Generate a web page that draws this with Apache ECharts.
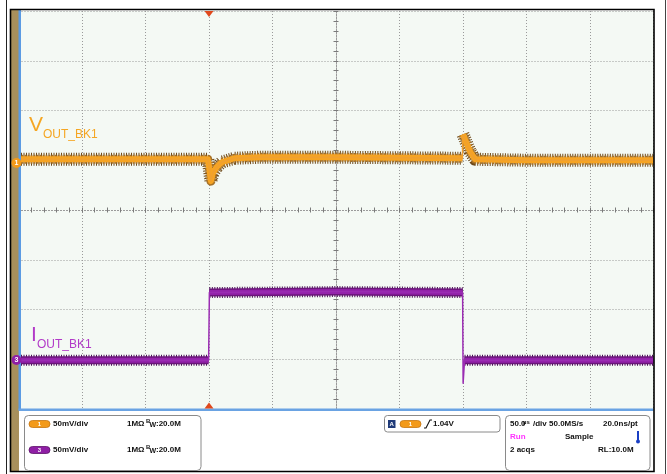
<!DOCTYPE html>
<html><head><meta charset="utf-8">
<script src="https://cdn.jsdelivr.net/npm/echarts@6/dist/echarts.min.js"></script>
<style>html,body{margin:0;padding:0;background:#fff}#c{width:667px;height:474px}</style>
</head><body><div id="c"></div>
<script>
// Time axis: 50 us/div, trigger at t=0 (3 divisions from left)
const timeMin = -150, timeMax = 350, timeDiv = 50;
// Vertical: 50 mV/div, screen mV (0 = centre line)
const voltMin = -200, voltMax = 200, voltDiv = 50;

// CH1 (V_OUT_BK1), screen mV
const ch1Time = [-150, -100, -50, -1, 0, 1.5, 3, 6, 10, 20, 40, 100, 199.5, 200, 202.5, 205.5, 209.5, 250, 350];
const ch1Volt = [51, 51, 51, 51, 44, 29, 37, 43, 48, 52, 53, 53, 52, 76, 68, 59, 51, 50, 50];

// CH3 (I_OUT_BK1), screen mV
const ch3Time = [-150, -0.3, 0.3, 100, 199.7, 200.1, 201.2, 350];
const ch3Volt = [-151, -151, -83, -82, -83, -174, -151, -151];

const ch1Label = ['V', 'OUT_BK1'];
const ch3Label = ['I', 'OUT_BK1'];

const FONT = '"Liberation Sans", Arial, sans-serif';

function pairs(t, v) { return t.map((x, i) => [x, v[i]]); }
function band(t, v, maxSlope) {
  const out = [];
  for (let i = 0; i < t.length; i++) {
    if (i > 0 && Math.abs(v[i] - v[i - 1]) / (t[i] - t[i - 1]) > maxSlope) {
      out.push([(t[i] + t[i - 1]) / 2, '-']);
    }
    out.push([t[i], v[i]]);
  }
  return out;
}

const chart = echarts.init(document.getElementById('c'), null, {renderer: 'canvas'});

const gridRect = {left: 18.5, top: 11, width: 635, height: 398};
const dotted = {color: '#9a9a9a', width: 1, type: [1, 2]};

function txt(text, x, y, opts) {
  opts = opts || {};
  return {
    type: 'text', z: 110, silent: true,
    style: {
      text: text, x: x, y: y,
      fill: opts.fill || '#111',
      font: (opts.weight || 'bold') + ' ' + (opts.size || 8) + 'px ' + FONT,
      textAlign: opts.align || 'left', align: opts.align || 'left',
      textVerticalAlign: 'middle', verticalAlign: 'middle'
    }
  };
}
function pill(x, y, color, stroke, label) {
  return [
    {type: 'rect', z: 110, silent: true, shape: {x: x, y: y - 3.5, width: 21, height: 7, r: 3.5},
      style: {fill: color, stroke: stroke, lineWidth: 0.8}},
    txt(label, x + 10.5, y, {fill: '#fff', size: 6, align: 'center'})
  ];
}

const graphics = [
  {type: 'line', z: 100, silent: true, shape: {x1: 6.5, y1: 0, x2: 6.5, y2: 474}, style: {stroke: '#222', lineWidth: 1}},
  {type: 'line', z: 100, silent: true, shape: {x1: 665.5, y1: 0, x2: 665.5, y2: 474}, style: {stroke: '#444', lineWidth: 1}},
  {type: 'rect', z: 100, silent: true, shape: {x: 10, y: 9, width: 9, height: 463}, style: {fill: '#a8905c'}},
  {type: 'rect', z: 100, silent: true, shape: {x: 18.5, y: 10, width: 2.5, height: 400}, style: {fill: '#5b9be3'}},
  {type: 'rect', z: 100, silent: true, shape: {x: 18.5, y: 408.5, width: 635, height: 2.5}, style: {fill: '#6aa3e3'}},
  {type: 'rect', z: 101, silent: true, shape: {x: 10.5, y: 9.5, width: 643.5, height: 462}, style: {fill: null, stroke: '#000', lineWidth: 1.6}},
  {type: 'polygon', z: 102, silent: true, shape: {points: [[204.5, 11], [213.5, 11], [209, 17]]}, style: {fill: '#e0481c'}},
  {type: 'polygon', z: 102, silent: true, shape: {points: [[204.5, 408.5], [213.5, 408.5], [209, 402.5]]}, style: {fill: '#e0481c'}},
  {type: 'circle', z: 103, silent: true, shape: {cx: 16.5, cy: 163, r: 5}, style: {fill: '#f39a1a'}},
  txt('1', 16.5, 163.5, {fill: '#fff', size: 7, align: 'center'}),
  {type: 'circle', z: 103, silent: true, shape: {cx: 16.5, cy: 360, r: 5}, style: {fill: '#8f1fa5'}},
  txt('3', 16.5, 360.5, {fill: '#fff', size: 7, align: 'center'}),
  txt(ch1Label[0], 29, 125, {fill: '#f5a623', size: 21, weight: 'normal'}),
  txt(ch1Label[1], 43, 134.5, {fill: '#f5a623', size: 12, weight: 'normal'}),
  txt(ch3Label[0], 31, 335, {fill: '#b23ac8', size: 21, weight: 'normal'}),
  txt(ch3Label[1], 37, 345, {fill: '#b23ac8', size: 12, weight: 'normal'}),
  {type: 'rect', z: 105, silent: true, shape: {x: 24.5, y: 415.5, width: 176.5, height: 55, r: 4}, style: {fill: '#fff', stroke: '#8a8a8a', lineWidth: 1}},
  {type: 'rect', z: 105, silent: true, shape: {x: 384.5, y: 415.5, width: 115.5, height: 16.5, r: 3}, style: {fill: '#fff', stroke: '#8a8a8a', lineWidth: 1}},
  {type: 'rect', z: 105, silent: true, shape: {x: 505.5, y: 415.5, width: 144.5, height: 55, r: 4}, style: {fill: '#fff', stroke: '#8a8a8a', lineWidth: 1}},
  ...pill(29, 424, '#f39a1a', '#c57512', '1'),
  txt('50mV/div', 53, 424),
  txt('1MΩ', 127, 424),
  txt('B', 146, 421.5, {size: 6}),
  txt('W', 149.5, 425.5, {size: 7}),
  txt(':20.0M', 156, 424),
  ...pill(29, 450, '#8f1fa5', '#5c1268', '3'),
  txt('50mV/div', 53, 450),
  txt('1MΩ', 127, 450),
  txt('B', 146, 447.5, {size: 6}),
  txt('W', 149.5, 451.5, {size: 7}),
  txt(':20.0M', 156, 450),
  {type: 'rect', z: 110, silent: true, shape: {x: 388, y: 420, width: 7.5, height: 8}, style: {fill: '#1f3a78'}},
  txt('A', 391.7, 424.3, {fill: '#fff', size: 6, align: 'center'}),
  ...pill(400, 424, '#f39a1a', '#c57512', '1'),
  {type: 'polyline', z: 110, silent: true, shape: {points: [[424, 428], [426, 428], [430, 420], [432, 420]]}, style: {stroke: '#111', lineWidth: 1.1, fill: null}},
  txt('1.04V', 433, 424),
  txt('50.0', 510, 424),
  txt('µs', 523, 422, {size: 6}),
  txt('/div 50.0MS/s', 533, 424),
  txt('20.0ns/pt', 603, 424),
  txt('Run', 510, 437, {fill: '#ff33ff'}),
  txt('Sample', 565, 437),
  {type: 'rect', z: 110, silent: true, shape: {x: 637, y: 431, width: 2, height: 10}, style: {fill: '#1a3fc4'}},
  {type: 'circle', z: 110, silent: true, shape: {cx: 638, cy: 441.5, r: 2}, style: {fill: '#1a3fc4'}},
  txt('2 acqs', 510, 450),
  txt('RL:10.0M', 598, 450)
];

function centerAxis(pos, min, max) {
  return {
    type: 'value', gridIndex: 1, position: pos, min: min, max: max, interval: 1,
    axisLine: {show: true, onZero: true, lineStyle: {color: '#9a9a9a', width: 1, type: [1, 2]}},
    axisTick: {show: true, length: 2.5, lineStyle: {color: '#7a7a7a', width: 1}},
    minorTick: {show: true, splitNumber: 5, length: 2.5, lineStyle: {color: '#7a7a7a', width: 1}},
    axisLabel: {show: false}, splitLine: {show: false}
  };
}

function trace(data, color, width, z, dash) {
  return {type: 'line', xAxisIndex: 0, yAxisIndex: 0, data: data, symbol: 'none', silent: true, z: z,
    lineStyle: {color: color, width: width, cap: 'butt', join: 'round', type: dash || 'solid'}};
}

const option = {
  animation: false,
  backgroundColor: '#ffffff',
  grid: [
    Object.assign({show: true, backgroundColor: '#f4f9f4', borderWidth: 0}, gridRect),
    Object.assign({show: false}, gridRect)
  ],
  xAxis: [
    {type: 'value', gridIndex: 0, min: timeMin, max: timeMax, interval: timeDiv,
      axisLine: {show: false}, axisTick: {show: false}, axisLabel: {show: false},
      splitLine: {show: true, lineStyle: dotted}},
    centerAxis('bottom', -5, 5),
    centerAxis('top', -5, 5)
  ],
  yAxis: [
    {type: 'value', gridIndex: 0, min: voltMin, max: voltMax, interval: voltDiv,
      axisLine: {show: false}, axisTick: {show: false}, axisLabel: {show: false},
      splitLine: {show: true, lineStyle: dotted}},
    centerAxis('left', -4, 4),
    centerAxis('right', -4, 4)
  ],
  graphic: {elements: graphics},
  series: [
    trace(band(ch1Time, ch1Volt, 20), '#6e4a1a', 13, 2, [1, 1.5]),
    trace(band(ch1Time, ch1Volt, 20), '#a87328', 9, 3, [2, 1]),
    trace(band(ch1Time, ch1Volt, 20), '#f6a423', 6, 4),
    trace(pairs(ch1Time, ch1Volt), '#f0a030', 1.5, 5),
    trace(band(ch3Time, ch3Volt, 20), '#4a0f55', 11, 2, [1, 1.5]),
    trace(band(ch3Time, ch3Volt, 20), '#6a1679', 8, 3),
    trace(band(ch3Time, ch3Volt, 20), '#9322aa', 5, 4),
    trace(pairs(ch3Time, ch3Volt), '#9a2cb2', 1.5, 5)
  ]
};
chart.setOption(option);
</script></body></html>
